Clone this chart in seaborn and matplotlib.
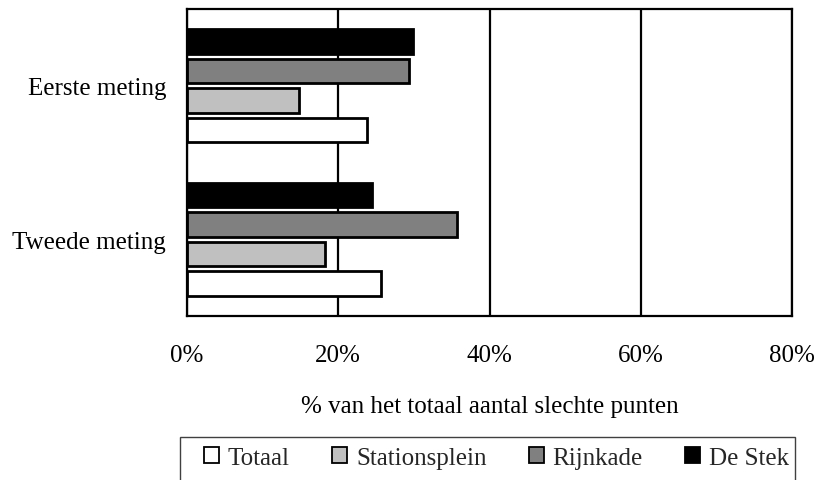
import matplotlib
matplotlib.use("Agg")
import matplotlib.pyplot as plt
import seaborn as sns
import pandas as pd
from matplotlib.patches import Patch, Rectangle

# Share of all poor scores per location, for both measurement rounds
metingen = ["Eerste meting", "Tweede meting"]
locaties = ["Totaal", "Stationsplein", "Rijnkade", "De Stek"]
totaal = [23.8, 25.6]
stationsplein = [14.8, 18.3]
rijnkade = [29.4, 35.7]
de_stek = [29.9, 24.4]
x_ticks = [0, 20, 40, 60, 80]
x_ticklabels = ["0%", "20%", "40%", "60%", "80%"]
kleuren = {"Totaal": "#ffffff", "Stationsplein": "#c0c0c0",
           "Rijnkade": "#808080", "De Stek": "#000000"}

rows = []
for loc, vals in zip(locaties, [totaal, stationsplein, rijnkade, de_stek]):
    for m, v in zip(metingen, vals):
        rows.append({"meting": m, "locatie": loc, "pct": v})
df = pd.DataFrame(rows)

sns.set_theme(style="white")
plt.rcParams["font.family"] = ["Liberation Serif", "DejaVu Serif"]

W, H = 817, 481
fig = plt.figure(figsize=(W / 100, H / 100), dpi=100)
ax = fig.add_axes([187 / W, 1 - 317 / H, 605 / W, 307 / H])

# Top-to-bottom order within each group: De Stek, Rijnkade, Stationsplein, Totaal
draw_order = locaties[::-1]
sns.barplot(data=df, x="pct", y="meting", hue="locatie", order=metingen,
            hue_order=draw_order, palette=kleuren, orient="h",
            width=0.77, gap=0.18, edgecolor="black", linewidth=2,
            legend=False, ax=ax)

ax.set_xlim(0, 80)
ax.set_xticks(x_ticks)
ax.set_xticklabels(x_ticklabels)
ax.xaxis.grid(True, color="black", linewidth=1.6)
ax.set_axisbelow(True)
for s in ax.spines.values():
    s.set_visible(True)
    s.set_color("black")
    s.set_linewidth(1.6)
ax.tick_params(axis="both", length=0, labelsize=18, colors="black")
ax.tick_params(axis="x", pad=20)
ax.tick_params(axis="y", pad=15)
ax.set_ylabel("")
ax.set_xlabel("% van het totaal aantal slechte punten", fontsize=18,
              color="black", labelpad=21)

# Legend box, running off the bottom edge of the figure
fig.patches.append(Rectangle((180 / W, -0.05), 615 / W, 1 - 438 / H + 0.05,
                             transform=fig.transFigure, facecolor="white",
                             edgecolor="#404040", linewidth=1.0, zorder=0))

handles = [Patch(facecolor=kleuren[l], edgecolor="black", linewidth=1.3, label=l)
           for l in locaties]
fig.legend(handles=handles, loc="upper left", ncol=4,
           bbox_to_anchor=(194 / W, 1 - 438 / H - 0.2, 605 / W, 0.2),
           mode="expand", frameon=False,
           fontsize=18, handlelength=0.6, handleheight=0.6,
           handletextpad=0.35, borderaxespad=0, borderpad=0.4)

fig.savefig("out.png", dpi=100)
